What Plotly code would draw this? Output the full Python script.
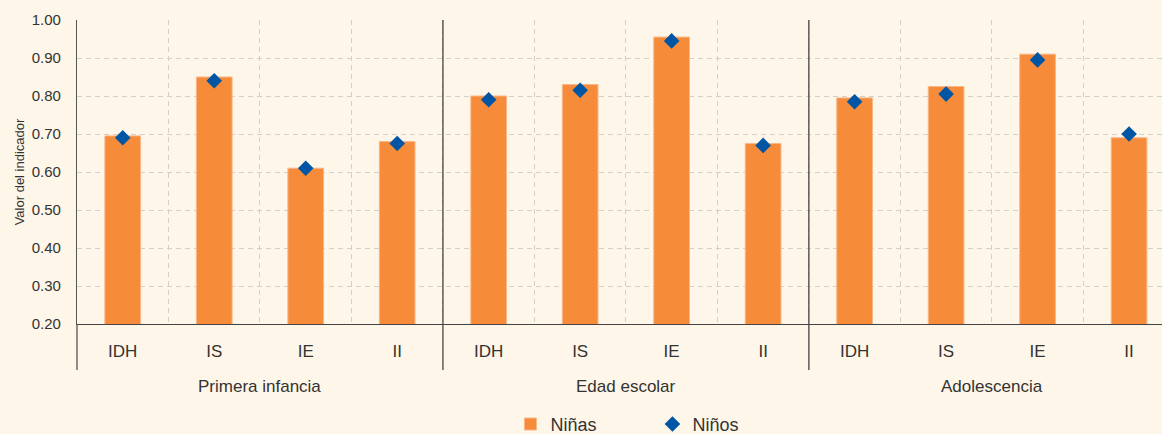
import numpy as np
import plotly.graph_objects as go

groups = ["Primera infancia", "Edad escolar", "Adolescencia"]
indicators = ["IDH", "IS", "IE", "II"]
ninas = [0.695, 0.85, 0.61, 0.68, 0.80, 0.83, 0.955, 0.675, 0.795, 0.825, 0.91, 0.69]
ninos = [0.69, 0.84, 0.61, 0.675, 0.79, 0.815, 0.945, 0.67, 0.785, 0.805, 0.895, 0.70]
y_ticks = [0.2, 0.3, 0.4, 0.5, 0.6, 0.7, 0.8, 0.9, 1.0]

BG = "#FEF6E8"
ORANGE = "#F68B3A"
BLUE = "#0056A4"
TXT = "#333333"
GRID = "#D3D0CA"
FONT = "Liberation Sans, Arial, sans-serif"

n_ind = len(indicators)
x = np.arange(len(ninas))
tick_text = [indicators[i % n_ind] for i in range(len(ninas))]
boundaries = [i - 0.5 for i in range(len(ninas) + 1)]
group_centers = [g * n_ind + (n_ind - 1) / 2 for g in range(len(groups))]
separators = [g * n_ind - 0.5 for g in range(1, len(groups))]

fig = go.Figure()
fig.add_trace(go.Bar(
    x=x, y=ninas, name="Niñas", width=0.39,
    marker=dict(color=ORANGE, line=dict(color="#F9B687", width=1)),
))
fig.add_trace(go.Scatter(
    x=x, y=ninos, name="Niños", mode="markers",
    marker=dict(symbol="diamond", size=12, color=BLUE),
))

fig.update_layout(
    width=1162, height=434,
    margin=dict(l=77, r=0, t=20, b=110, autoexpand=False),
    paper_bgcolor=BG, plot_bgcolor=BG,
    font=dict(family=FONT, color=TXT),
    showlegend=True,
    legend=dict(
        orientation="h", x=0.3995, xanchor="left", y=-0.33, yanchor="middle",
        font=dict(size=18, color=TXT), entrywidth=97, bgcolor="rgba(0,0,0,0)",
    ),
)

fig.update_xaxes(
    range=[-0.5, 11.36],
    tickvals=list(x), ticktext=tick_text,
    tickfont=dict(size=17, color=TXT),
    showgrid=False, zeroline=False,
    showline=True, linecolor="#444444", linewidth=1.3,
    ticks="", ticklabelstandoff=11,
    minor=dict(tickvals=boundaries, showgrid=True, gridcolor=GRID,
               griddash="5px,4px", gridwidth=1, ticks=""),
)
fig.update_yaxes(
    range=[0.2, 1.0],
    tickvals=y_ticks, ticktext=[f"{v:.2f}" for v in y_ticks],
    tickfont=dict(size=15, color=TXT),
    showgrid=True, gridcolor=GRID, griddash="5px,4px", gridwidth=1,
    zeroline=False, showline=True, linecolor="#555555", linewidth=1.3,
    ticks="", ticklabelstandoff=12,
    title=dict(text="Valor del indicador", font=dict(size=13, color=TXT), standoff=4),
)

# left axis extension below the plot
fig.add_shape(type="line", xref="paper", yref="paper", x0=0, x1=0, y0=0, y1=-0.151,
              line=dict(color="#555555", width=1.3))
# group separators
for s in separators:
    fig.add_shape(type="line", xref="x", yref="paper", x0=s, x1=s, y0=1, y1=-0.151,
                  line=dict(color="#444444", width=1.3), layer="above")

for g, c in zip(groups, group_centers):
    fig.add_annotation(x=c, xref="x", y=-0.207, yref="paper", text=g,
                       showarrow=False, xanchor="center", yanchor="middle",
                       font=dict(size=17, color=TXT))

fig.write_html(
    "out.html",
    config={"displayModeBar": False},
    post_script="document.body.style.margin='0';document.body.style.overflow='hidden';",
)
